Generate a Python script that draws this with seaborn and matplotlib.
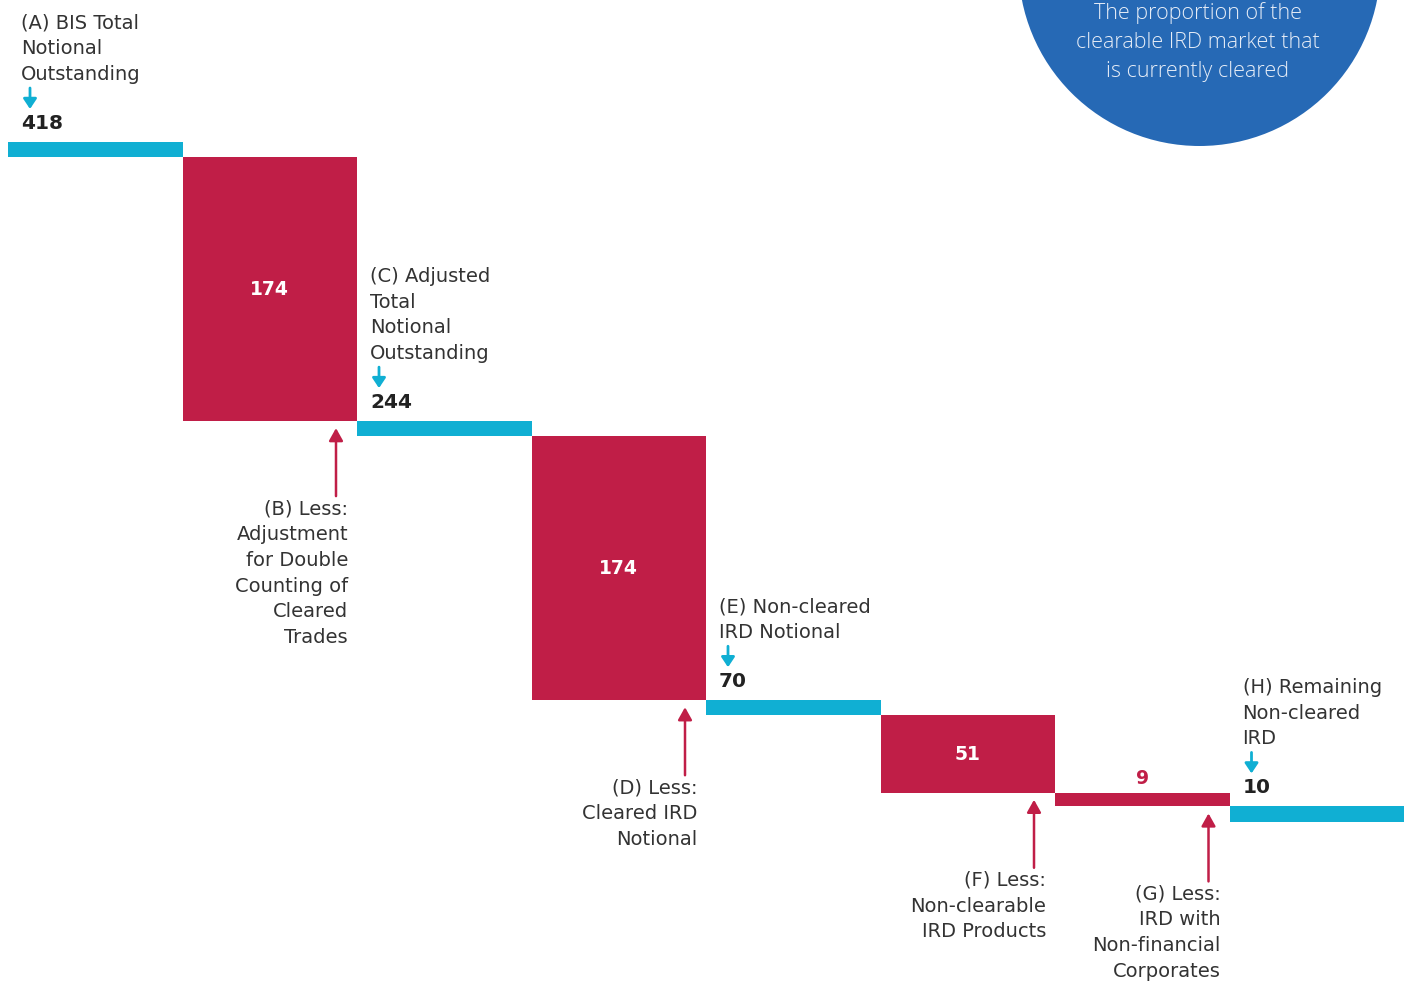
import numpy as np
import pandas as pd
import matplotlib
matplotlib.use("Agg")
import matplotlib.pyplot as plt
import seaborn as sns
from matplotlib.transforms import offset_copy
from matplotlib.patches import Ellipse

# ---------------- data ----------------
categories = ["A", "B", "C", "D", "E", "F", "G", "H"]
step_kind = ["total", "less", "total", "less", "total", "less", "less", "total"]
values = [418, 174, 244, 174, 70, 51, 9, 10]
step_labels = [
    ["(A) BIS Total", "Notional", "Outstanding"],
    ["(B) Less:", "Adjustment", "for Double", "Counting of", "Cleared", "Trades"],
    ["(C) Adjusted", "Total", "Notional", "Outstanding"],
    ["(D) Less:", "Cleared IRD", "Notional"],
    ["(E) Non-cleared", "IRD Notional"],
    ["(F) Less:", "Non-clearable", "IRD Products"],
    ["(G) Less:", "IRD with", "Non-financial", "Corporates"],
    ["(H) Remaining", "Non-cleared", "IRD"],
]
callout_lines = ["The proportion of the", "clearable IRD market that", "is currently cleared"]

# ---------------- style ----------------
CYAN = "#10AFD3"
RED = "#C01E47"
BLUE = "#2669B5"
TEXT = "#333333"
DARK = "#222222"
LEVEL_THICK = 10  # drawn thickness of the level bars (in value units)

# waterfall geometry (depth grows downward)
heights, bottoms = [], []
depth = 0
for k, v in zip(step_kind, values):
    h = LEVEL_THICK if k == "total" else v
    bottoms.append(depth)
    heights.append(h)
    depth += h

sns.set_theme(style="white")
plt.rcParams["font.family"] = ["DejaVu Sans"]

fig = plt.figure(figsize=(14.08, 9.83), dpi=100)
ax = fig.add_axes([0, 0, 1, 1])

df = pd.DataFrame({"step": categories, "height": heights})
sns.barplot(data=df, x="step", y="height", bottom=bottoms, width=1.0,
            errorbar=None, linewidth=0, color=CYAN, ax=ax)
for p, k in zip(ax.patches, step_kind):
    p.set_facecolor(CYAN if k == "total" else RED)
    p.set_edgecolor("none")

ax.set_xlim(-0.54585, 7.5229)
ax.set_ylim(554.4, -93.6)
ax.axis("off")


def off(dx, dy):
    """offset in image pixels (dy positive = downward)"""
    return offset_copy(ax.transData, fig=fig, x=dx, y=-dy, units="dots")


LINE = 25.8
LABEL_FS = 14.0
NUM_FS = 14.5

for i, (k, v, labs) in enumerate(zip(step_kind, values, step_labels)):
    top = bottoms[i]
    bot = bottoms[i] + heights[i]
    left, right = i - 0.5, i + 0.5
    if k == "total":
        ax.text(left, top, str(v), transform=off(13, -13), ha="left", va="baseline",
                fontsize=NUM_FS, fontweight="bold", color=DARK)
        ax.annotate("", xy=(left, top), xycoords=off(22, -33),
                    xytext=(left, top), textcoords=off(22, -54),
                    arrowprops=dict(arrowstyle="-|>,head_length=0.6,head_width=0.4",
                                    color=CYAN, lw=2.0, shrinkA=0, shrinkB=0,
                                    mutation_scale=10))
        for j, line in enumerate(labs[::-1]):
            ax.text(left, top, line, transform=off(13, -62 - j * LINE), ha="left",
                    va="baseline", fontsize=LABEL_FS, color=TEXT)
    else:
        if v >= 30:
            ax.text(i, top + v / 2, str(v), ha="center", va="center",
                    fontsize=13.5, fontweight="bold", color="white")
        else:
            ax.text(i, top, str(v), transform=off(0, -9), ha="center", va="baseline",
                    fontsize=13.5, fontweight="bold", color=RED)
        ax.annotate("", xy=(right, bot), xycoords=off(-21, 7),
                    xytext=(right, bot), textcoords=off(-21, 75),
                    arrowprops=dict(arrowstyle="-|>,head_length=0.75,head_width=0.42",
                                    color=RED, lw=1.8, shrinkA=0, shrinkB=0,
                                    mutation_scale=10))
        for j, line in enumerate(labs):
            ax.text(right, bot, line, transform=off(-9, 93 + j * LINE), ha="right",
                    va="baseline", fontsize=LABEL_FS, color=TEXT)

# call-out circle
W, H = 1408, 983
circ = Ellipse((1199.5 / W, 1 + 35 / H), width=362 / W, height=362 / H,
               transform=ax.transAxes, facecolor=BLUE, edgecolor="none",
               clip_on=False, zorder=3)
ax.add_patch(circ)
for j, line in enumerate(callout_lines):
    ax.text(1198 / W, 1 - (19 + 29 * j) / H, line, transform=ax.transAxes,
            ha="center", va="baseline", fontsize=15.5, fontweight="light",
            family=["Open Sans", "DejaVu Sans"], color="#E6EDF7", zorder=4)

fig.savefig("out.png", dpi=100)
